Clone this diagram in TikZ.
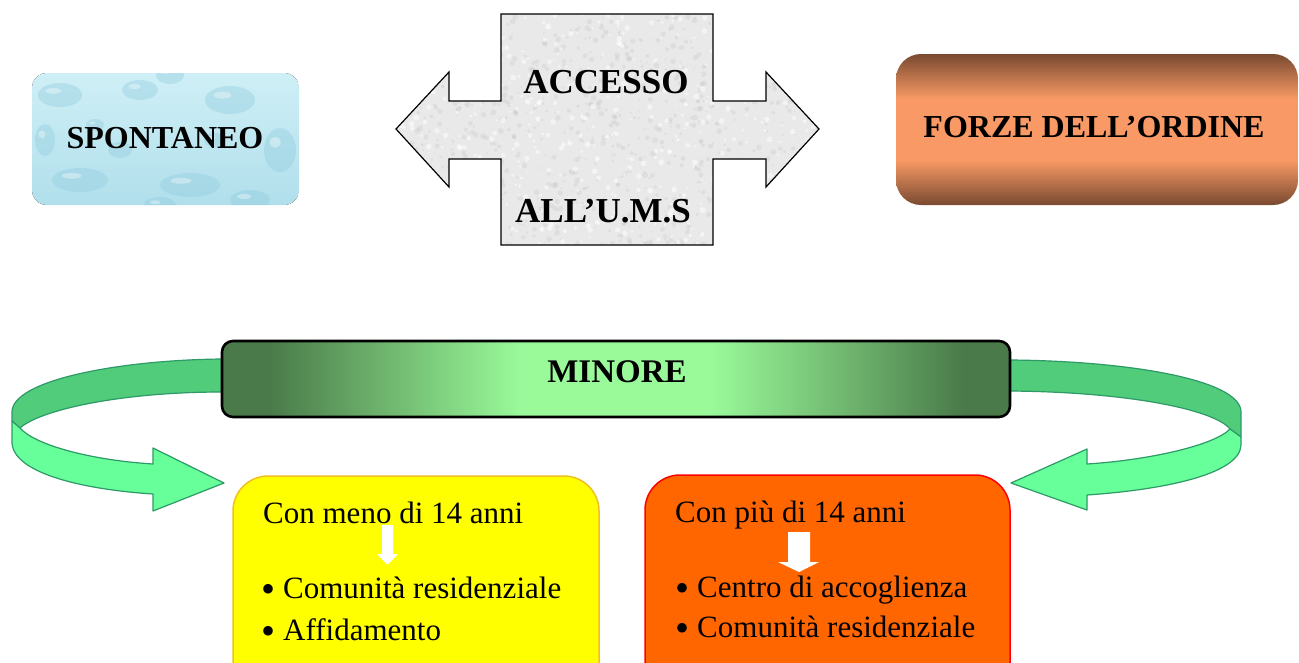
\documentclass[tikz,border=0pt]{standalone}
\usepackage{fontspec}
\setmainfont{Liberation Serif}
\definecolor{spblue}{HTML}{B0DFEB}
\definecolor{spblue2}{HTML}{92CCDF}
\definecolor{spblue3}{HTML}{CFEFF6}
\definecolor{fdark}{HTML}{7A4A30}
\definecolor{flight}{HTML}{F99A66}
\definecolor{mdark}{HTML}{4A7A4A}
\definecolor{mlight}{HTML}{9AFA9A}
\definecolor{bandtop}{HTML}{50CC7A}
\definecolor{bandlow}{HTML}{66FF99}
\definecolor{bandline}{HTML}{2E9A68}
\definecolor{crossgray}{HTML}{E9E9E9}
\definecolor{ybox}{HTML}{FFFF00}
\definecolor{yline}{HTML}{F0C020}
\definecolor{obox}{HTML}{FF6600}
\definecolor{oline}{HTML}{FF0000}
\pgfdeclareverticalshading{forzeshade}{100bp}{color(0bp)=(fdark); color(25bp)=(fdark); color(40bp)=(flight); color(60bp)=(flight); color(75bp)=(fdark); color(100bp)=(fdark)}
\pgfdeclarehorizontalshading{minoreshade}{100bp}{color(0bp)=(mdark); color(28bp)=(mdark); color(44bp)=(mlight); color(56bp)=(mlight); color(72bp)=(mdark); color(100bp)=(mdark)}
\newcommand{\bigbul}{\makebox[22pt][l]{\raisebox{-4pt}{\fontsize{40}{40}\selectfont\textbullet}}}
\tikzset{
  headtxt/.style={font=\fontsize{32}{36}\selectfont\bfseries, inner sep=0pt, anchor=base},
  bodytxt/.style={font=\fontsize{31}{36}\selectfont, inner sep=0pt, anchor=base west},
  band/.style={draw=bandline, line width=1.2pt, line join=round},
  whitearrow/.style={fill=white, draw=none},
}
\begin{document}
\begin{tikzpicture}[x=1pt,y=-1pt]
\clip (0,0) rectangle (1299,662);
\fill[white] (0,0) rectangle (1299,662);

% SPONTANEO box
\begin{scope}
\clip[rounded corners=15pt] (32,73) rectangle (299,205);
\fill[top color=spblue3, bottom color=spblue] (32,73) rectangle (299,205);
\foreach \cx/\cy/\rx/\ry in {60/95/22/12, 140/90/18/10, 230/100/25/14, 280/150/16/22, 80/180/28/12, 190/185/30/12, 120/150/12/8, 250/200/20/10, 45/140/10/16, 170/75/14/9, 95/125/9/6, 215/140/11/7, 160/205/16/8}{
  \fill[spblue2, opacity=0.4] (\cx,\cy) ellipse ({\rx} and {\ry});
  \fill[white, opacity=0.35] (\cx-\rx*0.3,\cy-\ry*0.35) ellipse ({\rx*0.35} and {\ry*0.25});
}
\end{scope}
\node[headtxt] (spontaneo) at (165,148) {SPONTANEO};

% ACCESSO cross arrow
\fill[crossgray]
  (501,14) -- (713,14) -- (713,101) -- (766,101) -- (766,72) -- (819,129) -- (766,187) -- (766,159)
  -- (713,159) -- (713,245) -- (501,245) -- (501,159) -- (449,159) -- (449,187) -- (396,129)
  -- (449,72) -- (449,101) -- (501,101) -- cycle;
\begin{scope}
\clip (501,14) -- (713,14) -- (713,101) -- (766,101) -- (766,72) -- (819,129) -- (766,187) -- (766,159)
  -- (713,159) -- (713,245) -- (501,245) -- (501,159) -- (449,159) -- (449,187) -- (396,129)
  -- (449,72) -- (449,101) -- (501,101) -- cycle;
\pgfmathsetseed{7}
\foreach \i in {1,...,900}{
  \pgfmathsetmacro{\px}{396+423*rnd}
  \pgfmathsetmacro{\py}{14+231*rnd}
  \pgfmathsetmacro{\pr}{0.8+2.2*rnd}
  \fill[gray!55, opacity=0.22] (\px,\py) circle (\pr);
}
\foreach \i in {1,...,500}{
  \pgfmathsetmacro{\px}{396+423*rnd}
  \pgfmathsetmacro{\py}{14+231*rnd}
  \pgfmathsetmacro{\pr}{1+2*rnd}
  \fill[white, opacity=0.5] (\px,\py) circle (\pr);
}
\end{scope}
\draw[line width=1.2pt, line join=miter]
  (501,14) -- (713,14) -- (713,101) -- (766,101) -- (766,72) -- (819,129) -- (766,187) -- (766,159)
  -- (713,159) -- (713,245) -- (501,245) -- (501,159) -- (449,159) -- (449,187) -- (396,129)
  -- (449,72) -- (449,101) -- (501,101) -- cycle;
\node[headtxt, font=\fontsize{35}{38}\selectfont\bfseries] (accesso) at (606,93) {ACCESSO};
\node[headtxt, font=\fontsize{35}{38}\selectfont\bfseries] (ums) at (603,222) {ALL’U.M.S};

% FORZE DELL'ORDINE box
\shade[shading=forzeshade, rounded corners=25pt] (896,54) rectangle (1298,205);
\node[headtxt] (forze) at (1094,137) {FORZE DELL’ORDINE};

% curved arrows (behind MINORE bar)
\draw[band, fill=bandtop]
  (226,359) -- (222,359) .. controls (120,360) and (12,380) .. (12,412) -- (12,421) -- (20,428)
  .. controls (40,410) and (120,392) .. (222,392) -- (226,392) -- cycle;
\draw[band, fill=bandlow]
  (12,421) -- (12,443) .. controls (14,475) and (90,490) .. (153,494) -- (153,511) -- (224,483)
  -- (153,448) -- (153,464) .. controls (90,460) and (35,445) .. (20,428) -- cycle;
\draw[band, fill=bandtop]
  (1006,360) -- (1010,360) .. controls (1130,361) and (1241,380) .. (1241,412) -- (1241,437) -- (1230,429)
  .. controls (1215,410) and (1130,392) .. (1010,391) -- (1006,391) -- cycle;
\draw[band, fill=bandlow]
  (1241,437) -- (1241,445) .. controls (1240,475) and (1160,490) .. (1087,495) -- (1087,510) -- (1011,483)
  -- (1087,449) -- (1087,464) .. controls (1150,460) and (1215,445) .. (1230,429) -- cycle;

% MINORE bar
\shade[shading=minoreshade, rounded corners=11pt] (222,341) rectangle (1010,417);
\draw[line width=2.6pt, rounded corners=11pt] (222,341) rectangle (1010,417);
\node[headtxt, font=\fontsize{33}{36}\selectfont\bfseries] (minore) at (617,382) {MINORE};

% yellow box
\draw[fill=ybox, draw=yline, line width=1.5pt, rounded corners=35pt] (233,476) rectangle (599,700);
\node[bodytxt] (meno) at (263,523) {Con meno di 14 anni};
\fill[whitearrow] (382,525) -- (393,525) -- (393,554) -- (398,554) -- (387.5,565) -- (377,554) -- (382,554) -- cycle;
\node[bodytxt] (comres1) at (261,598) {\bigbul Comunità residenziale};
\node[bodytxt] (affid) at (261,640) {\bigbul Affidamento};

% orange box
\draw[fill=obox, draw=oline, line width=1.5pt, rounded corners=35pt] (645,475) rectangle (1010,700);
\node[bodytxt] (piu) at (675,522) {Con più di 14 anni};
\fill[whitearrow] (788,532) -- (810,532) -- (810,562) -- (819,562) -- (799,572) -- (778,562) -- (788,562) -- cycle;
\node[bodytxt] (centro) at (675,597) {\bigbul Centro di accoglienza};
\node[bodytxt] (comres2) at (675,637) {\bigbul Comunità residenziale};
\end{tikzpicture}
\end{document}
